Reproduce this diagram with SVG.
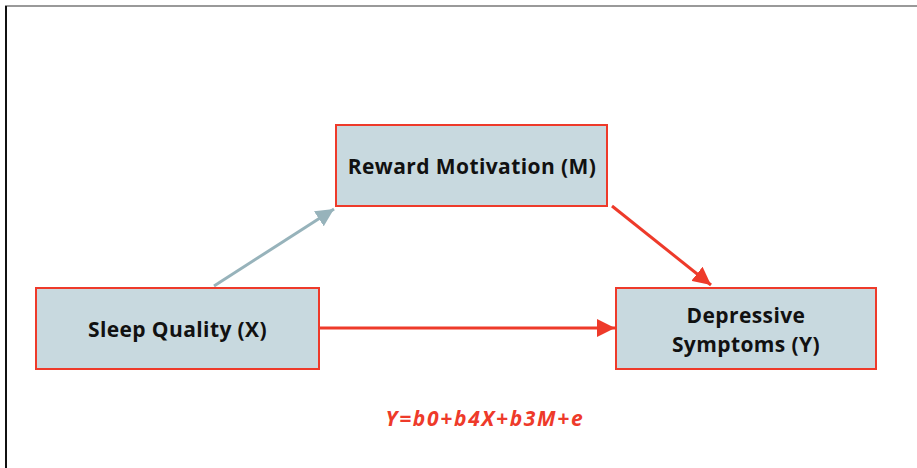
<svg xmlns="http://www.w3.org/2000/svg" width="917" height="468" viewBox="0 0 917 468">
<style>
.box{fill:#c8d9df;stroke:#ee3a2a;stroke-width:2}
.lbl{font-family:"Open Sans","Liberation Sans",sans-serif;font-weight:bold;font-size:21px;letter-spacing:0.4px;fill:#111;text-anchor:middle}
.eq{font-family:"Open Sans","Liberation Sans",sans-serif;font-weight:bold;font-style:italic;font-size:21px;letter-spacing:1.7px;fill:#ee3a2a;text-anchor:middle}
</style>
<defs>
<marker id="ar" viewBox="0 0 10 10" refX="10" refY="5" markerWidth="6" markerHeight="6" orient="auto" markerUnits="strokeWidth"><path d="M0,0L10,5L0,10z" fill="#ee3a2a"/></marker>
<marker id="ag" viewBox="0 0 10 10" refX="10" refY="5" markerWidth="6" markerHeight="6" orient="auto" markerUnits="strokeWidth"><path d="M0,0L10,5L0,10z" fill="#97b3bb"/></marker>
</defs>
<rect width="917" height="468" fill="#fff"/>
<line x1="5" y1="6" x2="917" y2="6" stroke="#777" stroke-width="1.5"/>
<line x1="6" y1="6" x2="6" y2="468" stroke="#111" stroke-width="2"/>
<g id="connectors">
<line x1="214" y1="286" x2="334" y2="209" stroke="#97b3bb" stroke-width="3" marker-end="url(#ag)"/>
<line x1="612" y1="206" x2="711" y2="285" stroke="#ee3a2a" stroke-width="3" marker-end="url(#ar)"/>
<line x1="319" y1="328" x2="615" y2="328" stroke="#ee3a2a" stroke-width="3" marker-end="url(#ar)"/>
</g>
<g id="node-m"><rect class="box" x="336" y="125" width="271" height="81"/><text class="lbl" x="472" y="174">Reward Motivation (M)</text></g>
<g id="node-x"><rect class="box" x="36" y="288" width="283" height="81"/><text class="lbl" x="177.5" y="337">Sleep Quality (X)</text></g>
<g id="node-y"><rect class="box" x="616" y="288" width="260" height="81"/><text class="lbl" x="746" y="323">Depressive</text><text class="lbl" x="746" y="352">Symptoms (Y)</text></g>
<text class="eq" x="485" y="426">Y=b0+b4X+b3M+e</text>
</svg>
